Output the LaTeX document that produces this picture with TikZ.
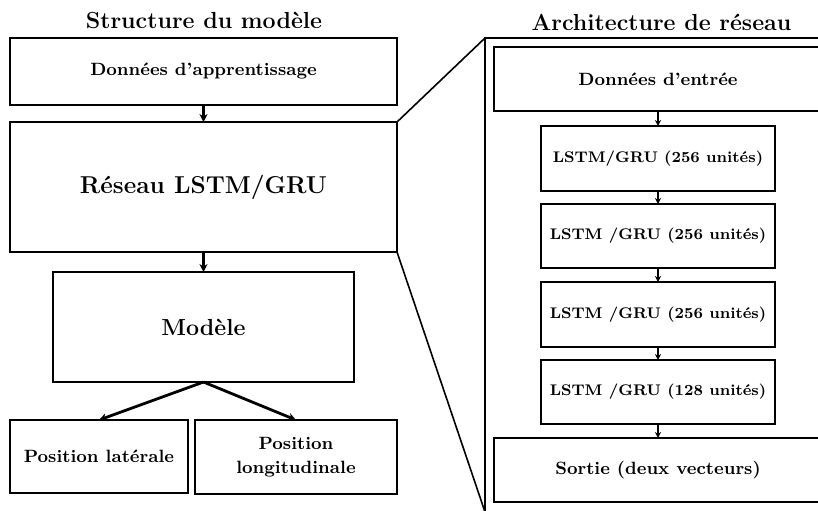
\documentclass[tikz,border=0pt]{standalone}
\usetikzlibrary{arrows.meta}
\begin{document}
\begin{tikzpicture}[x=0.5pt,y=-0.5pt,
  box/.style={draw,line width=0.7pt,inner sep=0pt,outer sep=0pt,align=center},
  titletxt/.style={font=\fontsize{11.6}{14}\selectfont\bfseries},
  bigtxt/.style={font=\fontsize{12.2}{14.5}\selectfont\bfseries},
  midtxt/.style={font=\fontsize{8.9}{12}\selectfont\bfseries},
  smalltxt/.style={font=\fontsize{7.7}{10}\selectfont\bfseries},
  flow/.style={-{Stealth[length=4pt,width=4pt]},line width=1.2pt},
  thinflow/.style={-{Stealth[length=3pt,width=3pt]},line width=0.9pt}]
  \useasboundingbox (0,0) rectangle (818,510);
  \clip (0,0) rectangle (818,510);
  % left column
  \node[titletxt,anchor=base] (titleL) at (204,28) {Structure du mod\`ele};
  \node[box,midtxt,minimum width=193.5pt,minimum height=33.5pt] (dapp) at (203.5,71.5) {Donn\'ees d'apprentissage};
  \node[box,bigtxt,minimum width=193.5pt,minimum height=65pt] (reseau) at (203.5,187) {R\'eseau LSTM/GRU};
  \node[box,titletxt,minimum width=150.5pt,minimum height=55pt] (modele) at (203.5,327) {Mod\`ele};
  \node[box,midtxt,minimum width=89pt,minimum height=36.5pt] (poslat) at (99,456.5) {Position lat\'erale};
  \node[box,midtxt,minimum width=101pt,minimum height=37pt] (poslong) at (296,457) {Position\\longitudinale};
  \draw[flow] (dapp) -- (reseau);
  \draw[flow] (reseau) -- (modele);
  \draw[flow,line width=1.4pt] (modele.south) -- (poslat.north);
  \draw[flow,line width=1.4pt] (modele.south) -- (poslong.north);
  % zoom into the network
  \coordinate (ftl) at (485,38);
  \coordinate (fbl) at (485,512);
  \draw[line width=0.8pt] (ftl) rectangle (831,530);
  \draw[line width=0.8pt] (reseau.north east) -- (ftl);
  \draw[line width=0.8pt] (reseau.south east) -- (fbl);
  % right column
  \node[titletxt,anchor=base] (titleR) at (661.5,30) {Architecture de r\'eseau};
  \node[box,midtxt,minimum width=164pt,minimum height=32pt] (entree) at (658,79) {Donn\'ees d'entr\'ee};
  \node[box,smalltxt,minimum width=117pt,minimum height=32.5pt] (lstmA) at (658,158.5) {LSTM/GRU (256 unit\'es)};
  \node[box,smalltxt,minimum width=117pt,minimum height=32pt] (lstmB) at (658,236) {LSTM /GRU (256 unit\'es)};
  \node[box,smalltxt,minimum width=117pt,minimum height=32.5pt] (lstmC) at (658,314.5) {LSTM /GRU (256 unit\'es)};
  \node[box,smalltxt,minimum width=117pt,minimum height=32pt] (lstmD) at (658,392) {LSTM /GRU (128 unit\'es)};
  \node[box,midtxt,minimum width=164pt,minimum height=32pt] (sortie) at (658,470) {Sortie (deux vecteurs)};
  \draw[thinflow] (entree) -- (lstmA);
  \draw[thinflow] (lstmA) -- (lstmB);
  \draw[thinflow] (lstmB) -- (lstmC);
  \draw[thinflow] (lstmC) -- (lstmD);
  \draw[thinflow] (lstmD) -- (sortie);
\end{tikzpicture}
\end{document}
